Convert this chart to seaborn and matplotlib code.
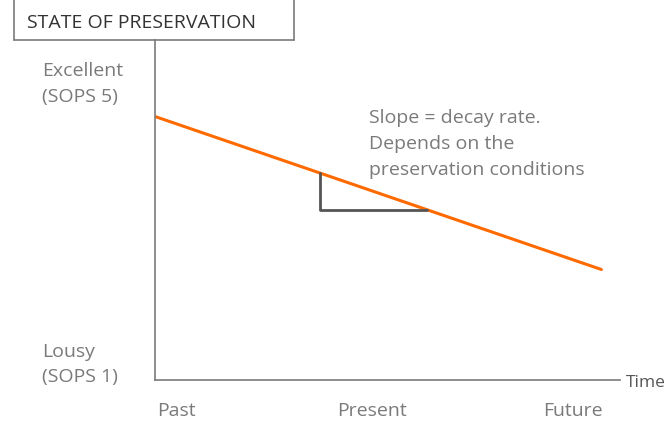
import matplotlib
matplotlib.use("Agg")
import matplotlib.pyplot as plt
import seaborn as sns
from matplotlib.lines import Line2D

# data (arbitrary units: time 0..10, state 0..10)
time = [0, 9.6]
state = [7.75, 3.25]
tri_x = [3.55, 3.55, 5.86]
tri_y = [6.1, 5.0, 5.0]
tick_pos = [0.05, 4.67, 8.99]
tick_labels = ["Past", "Present", "Future"]
level_labels = ["Excellent\n(SOPS 5)", "Lousy\n(SOPS 1)"]
note = "Slope = decay rate.\nDepends on the\npreservation conditions"

sns.set_style("white")
plt.rcParams['font.family'] = ['Open Sans', 'DejaVu Sans']

grey = "#7a7a7a"
fs = 14
fig = plt.figure(figsize=(6.66, 4.23), dpi=100)
ax = fig.add_axes([155/666, 43/423, 465/666, 340/423])

sns.lineplot(x=time, y=state, ax=ax, color="#ff6a00", linewidth=2.2)
sns.lineplot(x=tri_x, y=tri_y, ax=ax, color="#555555", linewidth=2,
             sort=False, estimator=None)

ax.set_xlim(0, 10)
ax.set_ylim(0, 10)
for s in ["top", "right"]:
    ax.spines[s].set_visible(False)
for s in ["left", "bottom"]:
    ax.spines[s].set_color(grey)
    ax.spines[s].set_linewidth(1.2)
ax.set_xticks([])
ax.set_yticks([])

# labels along the axes
for x, lab, ha in zip(tick_pos, tick_labels, ["left", "center", "center"]):
    ax.text(x, -0.9, lab, ha=ha, va="center", fontsize=fs, color=grey)
ax.text(-2.43, 8.7, level_labels[0], ha="left", va="center", fontsize=fs,
        color=grey, linespacing=1.55)
ax.text(-2.43, 0.46, level_labels[1], ha="left", va="center", fontsize=fs,
        color=grey, linespacing=1.55)
ax.text(10.12, -0.09, "Time", ha="left", va="center", fontsize=12.5,
        color="#555555", clip_on=False)
ax.text(4.6, 6.94, note, ha="left", va="center", fontsize=fs, color=grey,
        linespacing=1.55)

# title box at the top
fig.add_artist(Line2D([14/666, 14/666], [1, 1 - 40/423], color=grey, lw=1.2))
fig.add_artist(Line2D([294/666, 294/666], [1, 1 - 40/423], color=grey, lw=1.2))
fig.add_artist(Line2D([14/666, 294/666], [1 - 40/423, 1 - 40/423], color=grey, lw=1.2))
fig.text(27/666, 1 - 23/423, "STATE OF PRESERVATION", ha="left", va="center",
         fontsize=fs, color="#333333")

fig.savefig("out.png", dpi=100)
